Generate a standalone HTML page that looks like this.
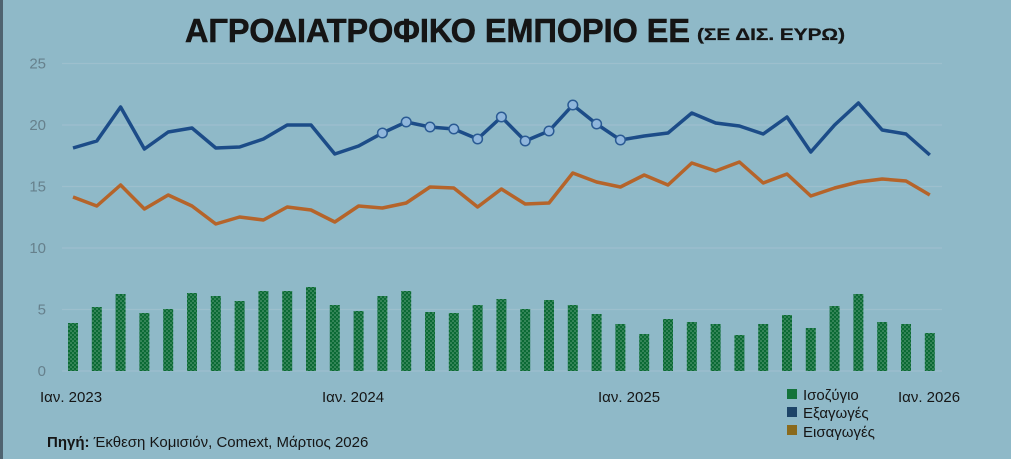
<!DOCTYPE html>
<html><head><meta charset="utf-8">
<style>
html,body{margin:0;padding:0;background:#8fb9c8;}
svg{display:block;font-family:"Liberation Sans","DejaVu Sans",sans-serif;}
</style></head>
<body>
<svg id="c" width="1011" height="459" viewBox="0 0 1011 459" xmlns="http://www.w3.org/2000/svg">
<defs>
<pattern id="dots" width="4" height="4" patternUnits="userSpaceOnUse">
<rect width="4" height="4" fill="#0b6a35"/>
<circle cx="1" cy="1" r="0.75" fill="#6aa985"/>
<circle cx="3" cy="3" r="0.75" fill="#6aa985"/>
</pattern>
</defs>
<rect width="1011" height="459" fill="#8fb9c8"/>
<rect x="0" y="0" width="3" height="459" fill="#4f6370"/>
<text x="185" y="42" font-size="33" font-weight="bold" fill="#151515" stroke="#151515" stroke-width="0.6" textLength="505" lengthAdjust="spacingAndGlyphs">ΑΓΡΟΔΙΑΤΡΟΦΙΚΟ ΕΜΠΟΡΙΟ ΕΕ</text>
<text x="697" y="40" font-size="17" font-weight="bold" fill="#151515" stroke="#151515" stroke-width="0.3" textLength="148" lengthAdjust="spacingAndGlyphs">(ΣΕ ΔΙΣ. ΕΥΡΩ)</text>
<g id="grid" stroke="#9dbfcd" stroke-width="1.2"></g>
<g id="ylab" font-size="15" fill="#66808c" text-anchor="end"></g>
<g id="bars"></g>
<g id="lines"></g>
<g font-size="15" fill="#151515">
<text x="40" y="402">Ιαν. 2023</text>
<text x="322" y="402">Ιαν. 2024</text>
<text x="598" y="402">Ιαν. 2025</text>
<text x="898" y="402">Ιαν. 2026</text>
<rect x="787" y="389" width="10" height="10" fill="#13733a"/>
<text x="803" y="400">Ισοζύγιο</text>
<rect x="787" y="407" width="10" height="10" fill="#1d4468"/>
<text x="803" y="418">Εξαγωγές</text>
<rect x="787" y="425" width="10" height="10" fill="#8a6a1c"/>
<text x="803" y="437">Εισαγωγές</text>
<text x="47" y="447" font-size="15"><tspan font-weight="bold">Πηγή:</tspan> Έκθεση Κομισιόν, Comext, Μάρτιος 2026</text>
</g>
</svg>
<script>
var NS="http://www.w3.org/2000/svg";
function el(p,t,a){var e=document.createElementNS(NS,t);for(var k in a)e.setAttribute(k,a[k]);document.getElementById(p).appendChild(e);return e;}
var gy=[371,309.5,248,186.5,125,63.5];
for(var i=0;i<6;i++){el("grid","line",{x1:62,x2:942,y1:gy[i],y2:gy[i]});var t=el("ylab","text",{x:46,y:gy[i]+5});t.textContent=(i*5);}
var ex=[148,141,107,149,132,128,148,147,139,125,125,154,146,133,122,127,129,139,117,141,131,105,124,140,136,133,113,123,126,134,117,152,125,103,130,134,155];
var im=[197,206,185,209,195,206,224,217,220,207,210,222,206,208,203,187,188,207,189,204,203,173,182,187,175,185,163,171,162,183,174,196,188,182,179,181,195];
var br=[323,307,294,313,309,293,296,301,291,291,287,305,311,296,291,312,313,305,299,309,300,305,314,324,334,319,322,324,335,324,315,328,306,294,322,324,333];
function X(i){return 73+i*23.8;}
for(var i=0;i<37;i++){el("bars","rect",{x:X(i)-5,y:br[i],width:10,height:371-br[i],fill:"url(#dots)"});}
function pts(a){return a.map(function(v,i){return X(i).toFixed(1)+","+v;}).join(" ");}
el("lines","polyline",{points:pts(im),fill:"none",stroke:"#b5642a","stroke-width":3.5,"stroke-linejoin":"round"});
el("lines","polyline",{points:pts(ex),fill:"none",stroke:"#1c4c88","stroke-width":3.5,"stroke-linejoin":"round"});
for(var i=13;i<=23;i++){el("lines","circle",{cx:X(i),cy:ex[i],r:4.8,fill:"#8fb6dc",stroke:"#2a5a93","stroke-width":1.5});}
</script>
</body></html>
